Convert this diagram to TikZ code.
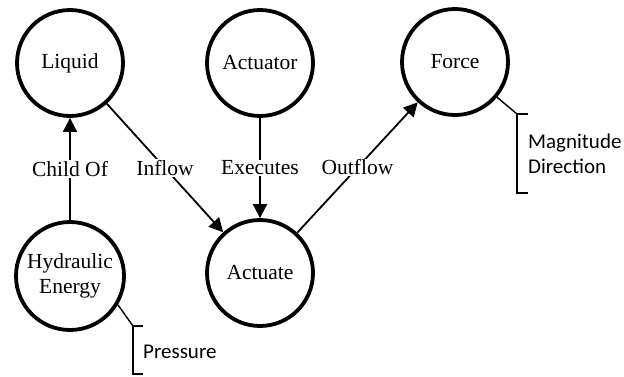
\documentclass[tikz,border=0pt]{standalone}
\usepackage{fontspec}
\setmainfont{Liberation Serif}
\newfontfamily\calib{Carlito}
\usetikzlibrary{arrows.meta}
\begin{document}
\begin{tikzpicture}[x=1pt,y=-1pt,
  concept/.style={circle,draw,line width=3.8pt,minimum size=106pt,inner sep=0pt,align=center,font=\fontsize{21.5}{25}\selectfont},
  link/.style={line width=1.8pt,-{Triangle[length=14pt,width=14pt]}},
  lbl/.style={fill=white,inner sep=1pt,font=\fontsize{21.5}{25}\selectfont},
  brk/.style={line width=1.4pt},
  note/.style={anchor=west,align=left,inner sep=0pt,font=\calib\fontsize{21}{25}\selectfont}]
\useasboundingbox (0,0) rectangle (624,376);
\node[concept] (liq) at (70,63) {Liquid};
\node[concept] (act) at (260,63) {Actuator};
\node[concept] (frc) at (455,62) {Force};
\node[concept,minimum size=108pt] (hyd) at (70,276) {Hydraulic\\Energy};
\node[concept] (acte) at (260,273) {Actuate};

\draw[link] (hyd) -- node[lbl] {Child Of} (liq);
\draw[link] (liq) -- node[lbl] {Inflow} (acte);
\draw[link] (act) -- node[lbl] {Executes} (acte);
\draw[link] (acte) -- node[lbl] {Outflow} (frc);

\coordinate (fb1) at (517,114);
\coordinate (fb2) at (517,193);
\draw[brk] (frc) -- (fb1);
\draw[brk] (528,114) -- (fb1) -- (fb2) -- (528,193);
\node[note] (fn) at (528,154) {Magnitude\\Direction};

\coordinate (pb1) at (133,326);
\coordinate (pb2) at (133,374);
\draw[brk] (hyd.-31) -- (pb1);
\draw[brk] (143,326) -- (pb1) -- (pb2) -- (143,374);
\node[note] (pn) at (143,352) {Pressure};
\end{tikzpicture}
\end{document}
